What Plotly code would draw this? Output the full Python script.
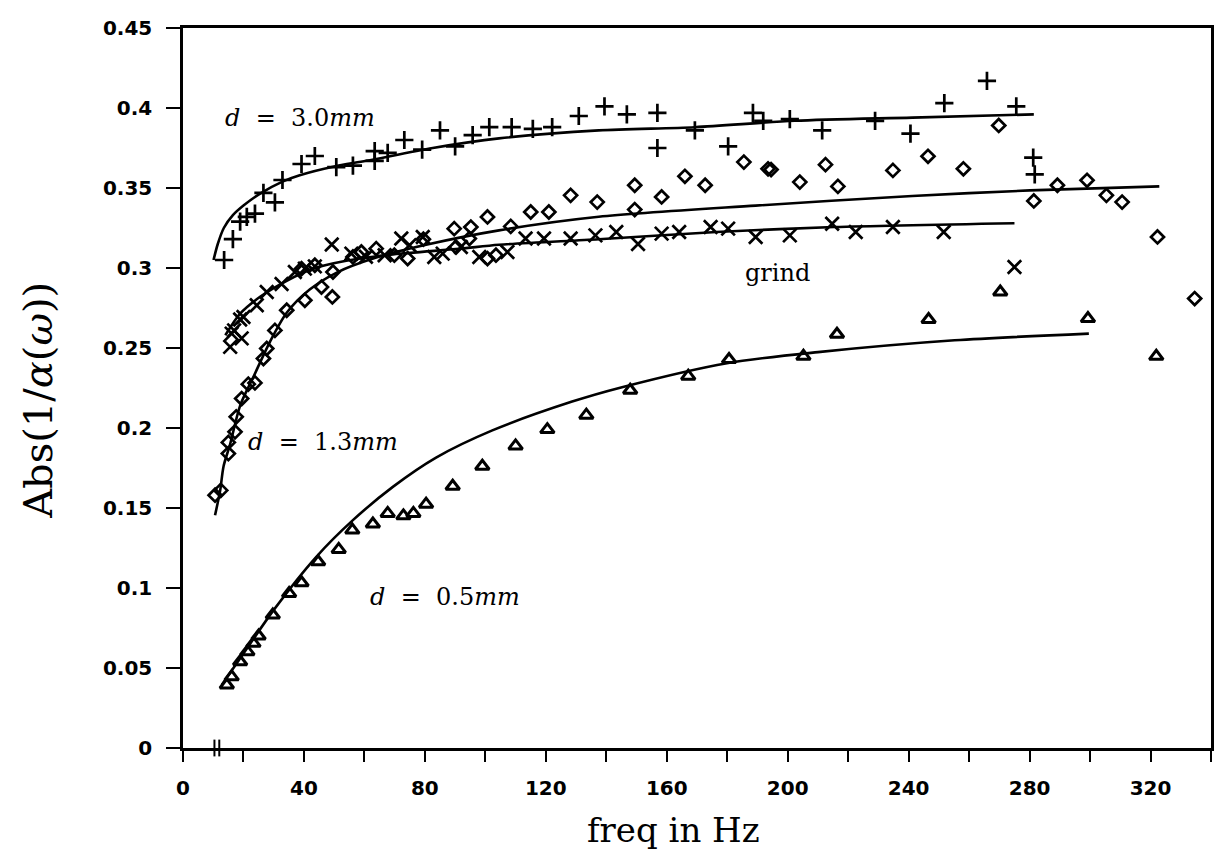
import plotly.graph_objects as go

# ---------------- data ----------------
# d = 3.0 mm  ("+" markers)
plus_f = [13.6, 16.5, 18.9, 21.1, 23.8, 26.6, 30.4, 32.9, 39.2, 43.6, 50.7, 56.2, 63.4, 63.4,
          67.7, 73.2, 79.1, 85.0, 90.0, 95.8, 101.3, 108.7, 115.7, 122.1, 130.9, 139.4, 146.8,
          156.9, 156.9, 169.3, 180.3, 188.5, 191.9, 200.7, 211.4, 228.9, 240.6, 251.8, 265.9,
          275.6, 281.2, 281.7]
plus_v = [0.305, 0.318, 0.329, 0.332, 0.334, 0.347, 0.341, 0.355, 0.365, 0.370, 0.363, 0.364,
          0.367, 0.373, 0.372, 0.380, 0.374, 0.386, 0.376, 0.383, 0.388, 0.388, 0.387, 0.388,
          0.395, 0.401, 0.396, 0.397, 0.375, 0.386, 0.376, 0.397, 0.392, 0.393, 0.386, 0.392,
          0.384, 0.403, 0.417, 0.401, 0.369, 0.3585]
plus_fit_f = [10.1, 11.5, 13.5, 16.5, 20.0, 25.5, 32.9, 38.6, 50.0, 60.6, 82.6, 104.5, 137.5,
              169.3, 202.3, 241.2, 281.4]
plus_fit_v = [0.305, 0.315, 0.325, 0.333, 0.339, 0.3465, 0.354, 0.358, 0.3635, 0.367, 0.375,
              0.381, 0.386, 0.388, 0.392, 0.394, 0.396]

# grind ("x" markers)
cross_f = [15.6, 16.1, 16.9, 18.9, 19.4, 20.0, 24.4, 27.7, 32.6, 37.0, 40.3, 43.6, 49.2, 55.7,
           60.5, 66.7, 72.2, 74.9, 79.3, 83.1, 85.9, 91.9, 98.0, 107.3, 113.3, 119.4, 128.2,
           136.4, 143.3, 150.5, 158.3, 164.1, 174.5, 180.3, 189.4, 200.7, 214.7, 222.5, 234.8,
           251.6, 275.0]
cross_v = [0.2507, 0.259, 0.261, 0.2678, 0.256, 0.2694, 0.2767, 0.285, 0.290, 0.2975, 0.2996,
           0.301, 0.3147, 0.309, 0.307, 0.308, 0.3184, 0.3142, 0.3194, 0.3069, 0.309, 0.3131,
           0.3069, 0.310, 0.3184, 0.3184, 0.3184, 0.3204, 0.3225, 0.315, 0.3215, 0.3225, 0.3256,
           0.3246, 0.3194, 0.3204, 0.3277, 0.3225, 0.3256, 0.3225, 0.3006]
cross_fit_f = [14.0, 18.9, 25.5, 34.3, 43.0, 54.0, 69.4, 91.4, 104.5, 137.5, 176.4, 215.3, 275.0]
cross_fit_v = [0.258, 0.2715, 0.282, 0.292, 0.2995, 0.3045, 0.3085, 0.312, 0.3145, 0.318, 0.3225,
               0.3256, 0.328]

# d = 1.3 mm (diamond markers)
dia_f = [10.6, 12.5, 15.0, 15.0, 17.2, 17.6, 19.4, 21.6, 23.8, 26.6, 27.7, 30.4, 34.3, 39.2,
         40.3, 43.6, 45.8, 49.4, 49.6, 56.2, 59.0, 63.9, 69.9, 74.3, 79.5, 89.7, 90.3, 94.7,
         95.2, 100.7, 100.7, 103.5, 108.4, 115.0, 121.0, 128.2, 137.0, 149.4, 149.4, 158.3,
         166.0, 172.7, 185.5, 193.5, 194.5, 204.0, 212.5, 216.6, 234.8, 246.4, 258.1, 269.8,
         281.4, 289.2, 299.0, 305.4, 310.6, 322.3, 334.6]
dia_v = [0.158, 0.161, 0.184, 0.191, 0.1976, 0.207, 0.2184, 0.2274, 0.2282, 0.2434, 0.2497,
         0.261, 0.2736, 0.2996, 0.2798, 0.3017, 0.2881, 0.2819, 0.2975, 0.3069, 0.310, 0.3121,
         0.308, 0.3059, 0.318, 0.3246, 0.3131, 0.3184, 0.3256, 0.3319, 0.3059, 0.308, 0.326,
         0.335, 0.335, 0.3454, 0.3412, 0.3517, 0.3365, 0.3444, 0.3573, 0.3517, 0.3662, 0.362,
         0.3615, 0.3537, 0.3646, 0.351, 0.361, 0.3698, 0.362, 0.3891, 0.3419, 0.3517, 0.3548,
         0.3454, 0.3412, 0.3194, 0.2809]
dia_fit_f = [10.6, 12.3, 13.4, 15.6, 18.9, 23.3, 28.8, 34.3, 41.9, 50.7, 63.9, 80.4, 104.5,
             137.5, 189.4, 241.2, 280.1, 322.9]
dia_fit_v = [0.1455, 0.161, 0.176, 0.190, 0.214, 0.232, 0.254, 0.272, 0.2865, 0.297, 0.3065,
             0.3145, 0.3235, 0.332, 0.339, 0.345, 0.3485, 0.351]

# d = 0.5 mm (triangle markers)
tri_f = [14.5, 16.1, 18.9, 21.3, 23.3, 25.0, 29.7, 35.1, 39.2, 44.7, 51.5, 56.0, 62.8, 67.7,
         72.9, 76.2, 80.4, 89.2, 99.0, 110.0, 120.5, 133.4, 147.9, 167.1, 180.6, 205.2, 216.3,
         246.6, 270.3, 299.3, 321.9]
tri_v = [0.0394, 0.0445, 0.0539, 0.0602, 0.0654, 0.070, 0.0831, 0.0966, 0.1033, 0.1164, 0.1241,
         0.1362, 0.140, 0.1466, 0.1451, 0.1466, 0.1524, 0.1636, 0.1761, 0.1888, 0.199, 0.208,
         0.2236, 0.2324, 0.2428, 0.2448, 0.2586, 0.2678, 0.285, 0.2684, 0.2448]
tri_fit_f = [12.8, 20.0, 29.9, 44.1, 56.2, 69.4, 83.7, 102.3, 128.7, 145.2, 179.9, 210.0, 255.2, 299.6]
tri_fit_v = [0.0394, 0.059, 0.086, 0.1195, 0.1424, 0.1632, 0.1815, 0.1985, 0.2165, 0.2255, 0.2405,
             0.2474, 0.2548, 0.259]

# axis break mark on the frequency axis
break_f = [10.4, 12.0]
break_v = [0.0, 0.0]

# ticks
x_tickvals = [0, 20, 40, 60, 80, 100, 120, 140, 160, 180, 200, 220, 240, 260, 280, 300, 320, 340]
x_ticktext = ["0", "", "40", "", "80", "", "120", "", "160", "", "200", "", "240", "", "280", "", "320", ""]
y_tickvals = [0, 0.05, 0.1, 0.15, 0.2, 0.25, 0.3, 0.35, 0.4, 0.45]
y_ticktext = ["0", "0.05", "0.1", "0.15", "0.2", "0.25", "0.3", "0.35", "0.4", "0.45"]

# labels
labels_text = ["<i>d</i>&nbsp;&nbsp;=&nbsp;&nbsp;3.0<i>mm</i>",
               "<i>d</i>&nbsp;&nbsp;=&nbsp;&nbsp;1.3<i>mm</i>",
               "<i>d</i>&nbsp;&nbsp;=&nbsp;&nbsp;0.5<i>mm</i>",
               "grind"]
labels_f = [38.7, 46.3, 86.5, 196.5]
labels_v = [0.394, 0.191, 0.0945, 0.297]

# ---------------- figure ----------------
BLACK = "black"
fig = go.Figure()

def add_fit(f, v):
    fig.add_trace(go.Scatter(x=f, y=v, mode="lines",
                             line=dict(color=BLACK, width=2.6, shape="spline", smoothing=0.8),
                             showlegend=False, hoverinfo="skip"))

add_fit(plus_fit_f, plus_fit_v)
add_fit(cross_fit_f, cross_fit_v)
add_fit(dia_fit_f, dia_fit_v)
add_fit(tri_fit_f, tri_fit_v)

fig.add_trace(go.Scatter(x=plus_f, y=plus_v, mode="markers", showlegend=False,
                         marker=dict(symbol="cross-thin", size=13, color=BLACK, line=dict(color=BLACK, width=2.7))))
fig.add_trace(go.Scatter(x=cross_f, y=cross_v, mode="markers", showlegend=False,
                         marker=dict(symbol="x-thin", size=13.5, color=BLACK, line=dict(color=BLACK, width=2.7))))
fig.add_trace(go.Scatter(x=dia_f, y=dia_v, mode="markers", showlegend=False,
                         marker=dict(symbol="diamond-open", size=10, color=BLACK, line=dict(color=BLACK, width=2.7))))
fig.add_trace(go.Scatter(x=tri_f, y=tri_v, mode="markers", showlegend=False,
                         marker=dict(symbol="triangle-up-open", size=12, color=BLACK, line=dict(color=BLACK, width=3))))
fig.add_trace(go.Scatter(x=break_f, y=break_v, mode="markers", showlegend=False, cliponaxis=False,
                         marker=dict(symbol="line-ns", size=12, color=BLACK, line=dict(color=BLACK, width=2))))

for t, f, v in zip(labels_text, labels_f, labels_v):
    fig.add_annotation(x=f, y=v, xref="x", yref="y", text=t, showarrow=False,
                       xanchor="center", yanchor="middle",
                       font=dict(family="DejaVu Serif", size=24, color=BLACK))

fig.add_annotation(x=0.477, y=-0.114, xref="paper", yref="paper", text="freq in Hz", showarrow=False,
                   xanchor="center", yanchor="middle",
                   font=dict(family="DejaVu Serif", size=34, color=BLACK))
fig.add_annotation(x=-0.1405, y=0.483, xref="paper", yref="paper", text="Abs(1/<i>α</i>(<i>ω</i>))",
                   showarrow=False, textangle=-90, xanchor="center", yanchor="middle",
                   font=dict(family="DejaVu Serif", size=40, color=BLACK))

tickfont = dict(family="DejaVu Sans", size=20, color=BLACK, weight="bold")
fig.update_xaxes(range=[0, 340], showline=True, linecolor=BLACK, linewidth=2.5, mirror=True,
                 ticks="outside", ticklen=11, tickwidth=2, tickcolor=BLACK,
                 tickvals=x_tickvals, ticktext=x_ticktext, tickfont=tickfont,
                 ticklabelstandoff=9, showgrid=False, zeroline=False)
fig.update_yaxes(range=[0, 0.45], showline=True, linecolor=BLACK, linewidth=2.5, mirror=True,
                 ticks="outside", ticklen=14, tickwidth=2, tickcolor=BLACK,
                 tickvals=y_tickvals, ticktext=y_ticktext, tickfont=tickfont,
                 ticklabelstandoff=10, showgrid=False, zeroline=False)

fig.update_layout(width=1217, height=865, margin=dict(l=183, r=3, t=28, b=117),
                  plot_bgcolor="white", paper_bgcolor="white", showlegend=False)

fig.write_html("out.html")
